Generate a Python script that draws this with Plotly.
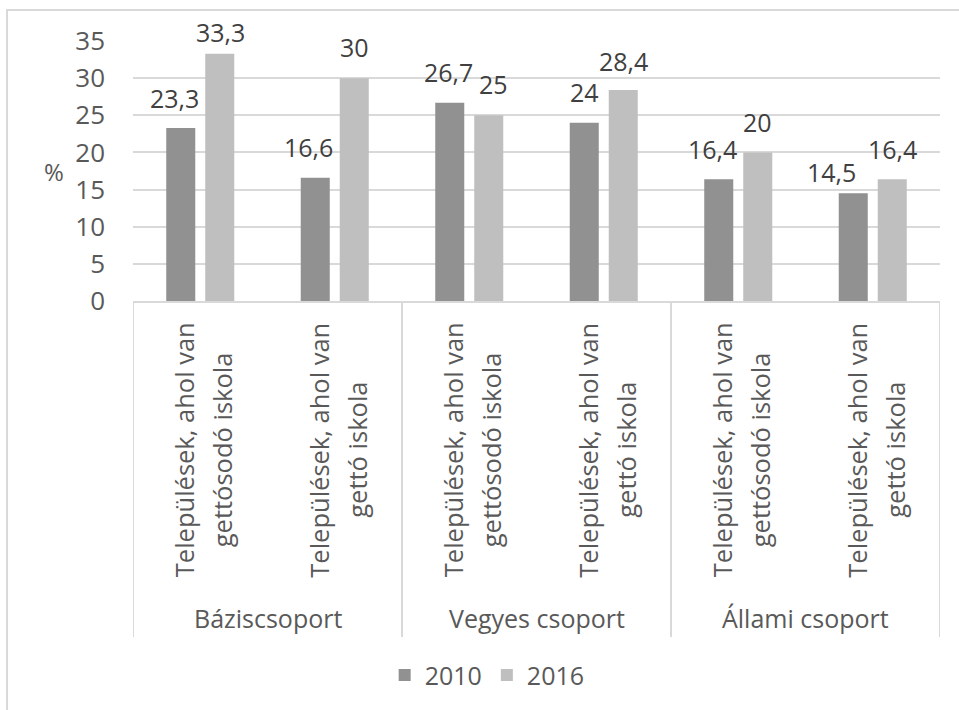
import plotly.graph_objects as go

# Data
groups = ["Báziscsoport", "Vegyes csoport", "Állami csoport"]
cat_line1 = ["Települések, ahol van"] * 6
cat_line2 = ["gettósodó iskola", "gettó iskola"] * 3
years = ["2010", "2016"]
values_2010 = [23.3, 16.6, 26.7, 24.0, 16.4, 14.5]
values_2016 = [33.3, 30.0, 25.0, 28.4, 20.0, 16.4]
y_ticks = [0, 5, 10, 15, 20, 25, 30, 35]

# Hand-placed value-label nudges (pixels): horizontal shift and lift above the bar
nudge_x_2010 = [-6.5, -7, -1.5, 0, -6, -22]
nudge_x_2016 = [0.5, 0, 5, 0, 0, 0]
lift_2010 = [10.5, 12, 11.5, 11.5, 11, 2]
lift_2016 = [3, 12, 12, 10.5, 11, 11]

FONT = "Open Sans"
AXIS_GREY = "#595959"
LABEL_GREY = "#404040"
LINE_GREY = "#d9d9d9"
BAR_OFFSET = 19.5  # half the distance between the two bar centres, px

x = list(range(len(values_2010)))


def fmt(v):
    s = f"{v:.1f}".replace(".", ",")
    return s[:-2] if s.endswith(",0") else s


fig = go.Figure()
for name, vals, color in [(years[0], values_2010, "#919191"),
                          (years[1], values_2016, "#bfbfbf")]:
    fig.add_trace(go.Bar(
        x=x, y=vals, name=name,
        marker=dict(color=color, line=dict(width=0)),
        hoverinfo="skip",
    ))

annotations = []
# Value labels above the bars
for vals, side, nx, lift in [(values_2010, -1, nudge_x_2010, lift_2010),
                             (values_2016, 1, nudge_x_2016, lift_2016)]:
    for i, v in enumerate(vals):
        annotations.append(dict(
            x=i, xref="x", y=v, yref="y",
            xshift=side * BAR_OFFSET + nx[i], yshift=lift[i],
            xanchor="center", yanchor="bottom",
            text=fmt(v), showarrow=False,
            font=dict(family=FONT, size=25, color=LABEL_GREY),
        ))
# Two-line rotated category labels
for i in x:
    for text, shift in [(cat_line1[i], -16), (cat_line2[i], 22)]:
        annotations.append(dict(
            x=i, xref="x", xshift=shift,
            y=-0.573, yref="paper", yanchor="middle", xanchor="center",
            text=text, textangle=-90, showarrow=False,
            font=dict(family=FONT, size=25.5, color=AXIS_GREY),
        ))
# Group labels
for g, name in enumerate(groups):
    annotations.append(dict(
        x=2 * g + 0.5, xref="x", y=-1.219, yref="paper",
        xanchor="center", yanchor="middle", text=name, showarrow=False,
        font=dict(family=FONT, size=25, color=AXIS_GREY),
    ))
# Value-axis unit
annotations.append(dict(
    x=-0.098, xref="paper", y=17.5, yref="y", xanchor="center", yanchor="middle",
    text="%", showarrow=False, font=dict(family=FONT, size=24, color=AXIS_GREY),
))

shapes = []
# Group separators on the category axis
for xs in [-0.5, 1.5, 3.5, 5.5]:
    shapes.append(dict(type="line", xref="x", yref="paper",
                       x0=xs, x1=xs, y0=0, y1=-1.292,
                       line=dict(color=LINE_GREY, width=2)))
# Chart border
shapes.append(dict(type="rect", xref="paper", yref="paper",
                   x0=-0.1561, x1=1.03, y0=-1.6, y1=1.1192,
                   line=dict(color=LINE_GREY, width=2), layer="below"))

fig.update_layout(
    width=959, height=710,
    margin=dict(l=133, r=19, t=41, b=409),
    paper_bgcolor="white", plot_bgcolor="white",
    barmode="group", bargap=0.42, bargroupgap=0.256,
    font=dict(family=FONT, color=AXIS_GREY),
    showlegend=True,
    legend=dict(orientation="h", xref="container", yref="container",
                x=0.508, xanchor="center", y=0.049, yanchor="middle",
                font=dict(family=FONT, size=25, color=AXIS_GREY),
                itemclick=False),
    xaxis=dict(range=[-0.5, 5.5], showticklabels=False, showgrid=False,
               zeroline=False, showline=True, linecolor=LINE_GREY, linewidth=2,
               fixedrange=True),
    yaxis=dict(range=[0, 35], tickvals=y_ticks, showgrid=True,
               gridcolor=LINE_GREY, gridwidth=2, zeroline=False,
               tickfont=dict(family=FONT, size=26, color=AXIS_GREY),
               ticklabelstandoff=27, fixedrange=True),
    annotations=annotations,
    shapes=shapes,
)

fig.write_html("out.html")
